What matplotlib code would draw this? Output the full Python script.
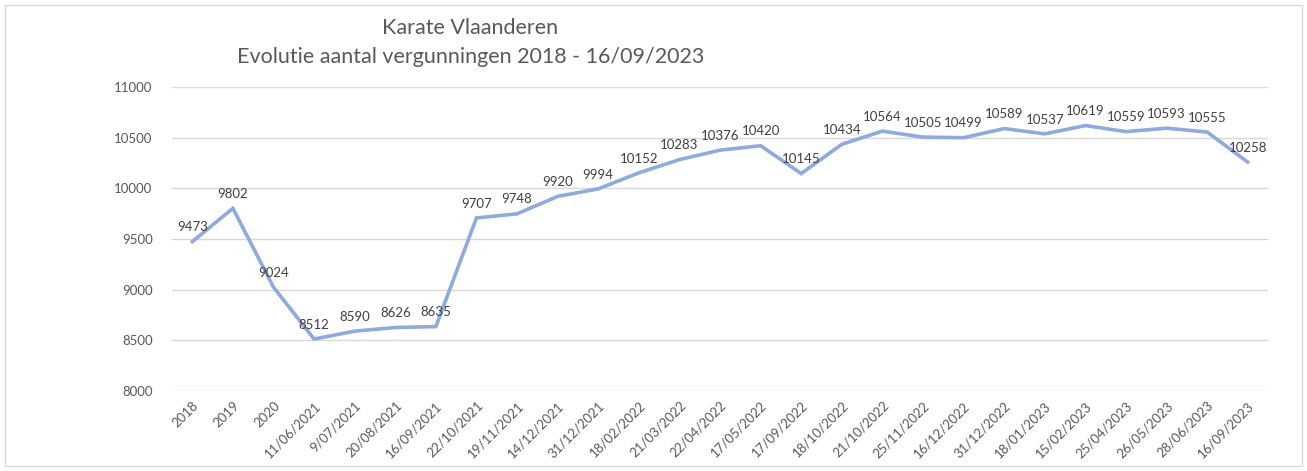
import matplotlib.pyplot as plt
from matplotlib.patches import Rectangle

dates = ["2018", "2019", "2020", "11/06/2021", "9/07/2021", "20/08/2021",
         "16/09/2021", "22/10/2021", "19/11/2021", "14/12/2021", "31/12/2021",
         "18/02/2022", "21/03/2022", "22/04/2022", "17/05/2022", "17/09/2022",
         "18/10/2022", "21/10/2022", "25/11/2022", "16/12/2022", "31/12/2022",
         "18/01/2023", "15/02/2023", "25/04/2023", "26/05/2023", "28/06/2023",
         "16/09/2023"]
licences = [9473, 9802, 9024, 8512, 8590, 8626, 8635, 9707, 9748, 9920, 9994,
            10152, 10283, 10376, 10420, 10145, 10434, 10564, 10505, 10499,
            10589, 10537, 10619, 10559, 10593, 10555, 10258]
y_ticks = [8000, 8500, 9000, 9500, 10000, 10500, 11000]

plt.rcParams["font.family"] = ["Lato", "DejaVu Sans"]

fig = plt.figure(figsize=(13.07, 4.71), dpi=100)
fig.patches.append(Rectangle((0.004, 0.01), 0.992, 0.98, transform=fig.transFigure,
                             fill=False, edgecolor="#D9D9D9", linewidth=1))
ax = fig.add_axes([0.1316, 0.170, 0.8386, 0.6454])

x = list(range(len(dates)))
ax.plot(x, licences, color="#8FAADC", linewidth=2.6, solid_joinstyle="miter")
for xi, v in zip(x, licences):
    ax.annotate(str(v), (xi, v), xytext=(0, 6), textcoords="offset points",
                ha="center", va="bottom", fontsize=9.5, color="#404040")

ax.set_xlim(-0.5, len(dates) - 0.5)
ax.set_ylim(8000, 11000)
ax.set_yticks(y_ticks)
ax.set_xticks(x)
ax.set_xticklabels(dates, rotation=45, ha="right", rotation_mode="anchor",
                   fontsize=9.5, color="#595959")
ax.tick_params(axis="y", labelsize=9.5, labelcolor="#595959", length=0, pad=14)
ax.tick_params(axis="x", length=0, pad=6)
ax.grid(axis="y", color="#D9D9D9", linewidth=1)
ax.set_axisbelow(True)
for s in ax.spines.values():
    s.set_visible(False)

fig.text(0.360, 0.94, "Karate Vlaanderen", ha="center", va="center",
         fontsize=15.5, color="#595959")
fig.text(0.360, 0.88, "Evolutie aantal vergunningen 2018 - 16/09/2023",
         ha="center", va="center", fontsize=15.5, color="#595959")

fig.savefig("out.png", dpi=100)
